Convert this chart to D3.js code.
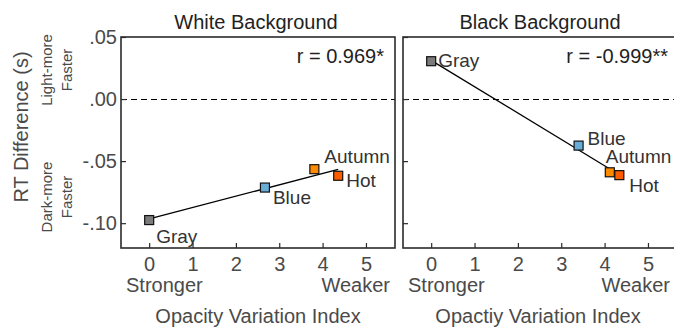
<!DOCTYPE html>
<html>
<head>
<meta charset="utf-8">
<script src="https://cdn.jsdelivr.net/npm/d3@7"></script>
<style>
  body { margin: 0; background: #fff; }
  svg { display: block; font-family: "Liberation Sans", Arial, sans-serif; }
</style>
</head>
<body>
<svg id="chart" width="674" height="327"></svg>
<script>
// data
const names = ['Gray', 'Blue', 'Autumn', 'Hot'];
const whiteX = [0, 2.67, 3.81, 4.36];
const whiteY = [-0.0975, -0.0713, -0.0565, -0.0618];
const blackX = [0, 3.40, 4.12, 4.34];
const blackY = [0.0305, -0.0375, -0.0590, -0.0613];
const panelTitles = ['White Background', 'Black Background'];
const rTexts = ['r = 0.969*', 'r = -0.999**'];
const xLabels = ['Opacity Variation Index', 'Opactiy Variation Index'];
const xTicks = [0, 1, 2, 3, 4, 5];
const yTicks = [0.05, 0, -0.05, -0.10];
const yTickLabels = ['.05', '.00', '-.05', '-.10'];

const colors = { Gray: '#7b7b7b', Blue: '#68acd8', Autumn: '#ff8a00', Hot: '#ff5c00' };
// label offsets from marker centre [dx, dy] for each panel
const labelOffsets = [
  { Gray: [7, 23], Blue: [8, 16], Autumn: [10, -6], Hot: [8, 11] },
  { Gray: [7, 6], Blue: [9, -1], Autumn: [-4, -9], Hot: [10, 17] }
];

const svg = d3.select('#chart');
const textCol = '#4a4a4a';
const axisCol = '#2b2b2b';
const fs = 20;

const y = d3.scaleLinear().domain([-0.12, 0.05]).range([248, 37]);
const panels = [
  { x0: 121, x1: 395, xs: whiteX, ys: whiteY },
  { x0: 403, x1: 677, xs: blackX, ys: blackY }
];

panels.forEach((p, i) => {
  const x = d3.scaleLinear().domain([-0.65, 5.67]).range([p.x0, p.x1]);
  const g = svg.append('g');
  const pts = names.map((n, k) => ({ name: n, x: p.xs[k], y: p.ys[k] }));

  // dashed zero line
  g.append('line')
    .attr('x1', p.x0).attr('x2', p.x1)
    .attr('y1', Math.round(y(0)) + 0.5).attr('y2', Math.round(y(0)) + 0.5)
    .attr('stroke', '#000').attr('stroke-width', 1.2)
    .attr('stroke-dasharray', '6,4');

  // least squares fit line
  const mx = d3.mean(pts, d => d.x), my = d3.mean(pts, d => d.y);
  const slope = d3.sum(pts, d => (d.x - mx) * (d.y - my)) / d3.sum(pts, d => (d.x - mx) ** 2);
  const icpt = my - slope * mx;
  const [xmin, xmax] = d3.extent(pts, d => d.x);
  g.append('line')
    .attr('x1', x(xmin)).attr('y1', y(icpt + slope * xmin))
    .attr('x2', x(xmax)).attr('y2', y(icpt + slope * xmax))
    .attr('stroke', '#000').attr('stroke-width', 1.3);

  // markers
  g.selectAll('rect.pt').data(pts).enter().append('rect')
    .attr('class', 'pt')
    .attr('x', d => x(d.x) - 4.5).attr('y', d => y(d.y) - 4.5)
    .attr('width', 9).attr('height', 9)
    .attr('fill', d => colors[d.name])
    .attr('stroke', '#111').attr('stroke-width', 1.2);

  g.selectAll('text.lbl').data(pts).enter().append('text')
    .attr('class', 'lbl')
    .attr('x', d => x(d.x) + labelOffsets[i][d.name][0])
    .attr('y', d => y(d.y) + labelOffsets[i][d.name][1])
    .attr('font-size', 19).attr('fill', '#333')
    .text(d => d.name);

  // axes with inward ticks
  const xAxis = d3.axisBottom(x).tickValues(xTicks).tickSize(-5).tickPadding(9).tickFormat(d3.format('d'));
  const ga = g.append('g').attr('transform', `translate(0,248)`).call(xAxis);
  const yAxis = d3.axisLeft(y).tickValues(yTicks).tickSize(-5).tickPadding(4)
    .tickFormat((d, k) => i === 0 ? yTickLabels[k] : '');
  const gy = g.append('g').attr('transform', `translate(${p.x0},0)`).call(yAxis);
  [ga, gy].forEach(a => {
    a.select('.domain').remove();
    a.selectAll('line').attr('stroke', axisCol).attr('stroke-width', 1.2);
    a.selectAll('text').attr('font-size', fs).attr('fill', textCol)
      .attr('font-family', '"Liberation Sans", Arial, sans-serif');
  });

  // box
  g.append('rect')
    .attr('x', p.x0).attr('y', 37)
    .attr('width', p.x1 - p.x0).attr('height', 248 - 37)
    .attr('fill', 'none').attr('stroke', axisCol).attr('stroke-width', 1.6);

  // titles and labels
  svg.append('text').attr('x', i === 0 ? 256 : 540).attr('y', 29)
    .attr('text-anchor', 'middle').attr('font-size', fs).attr('fill', '#222')
    .text(panelTitles[i]);
  svg.append('text').attr('x', i === 0 ? 384 : 668).attr('y', 63)
    .attr('text-anchor', 'end').attr('font-size', fs).attr('fill', '#222')
    .text(rTexts[i]);
  svg.append('text').attr('x', p.x0 + 5).attr('y', 292)
    .attr('font-size', fs).attr('fill', textCol).text('Stronger');
  svg.append('text').attr('x', i === 0 ? 390 : 670).attr('y', 292)
    .attr('text-anchor', 'end').attr('font-size', fs).attr('fill', textCol).text('Weaker');
  svg.append('text').attr('x', i === 0 ? 258 : 538).attr('y', 323)
    .attr('text-anchor', 'middle').attr('font-size', fs).attr('fill', textCol)
    .text(xLabels[i]);
});

// y axis titles
svg.append('text')
  .attr('transform', 'translate(28,127) rotate(-90)')
  .attr('text-anchor', 'middle').attr('font-size', fs).attr('fill', textCol)
  .text('RT Difference (s)');
const side = [['Light-more', 'Faster', 70], ['Dark-more', 'Faster', 197]];
side.forEach(s => {
  const t = svg.append('text')
    .attr('transform', `translate(52,${s[2]}) rotate(-90)`)
    .attr('text-anchor', 'middle').attr('font-size', 15).attr('fill', textCol);
  t.append('tspan').attr('x', 0).attr('dy', 0).text(s[0]);
  t.append('tspan').attr('x', 0).attr('dy', 20).text(s[1]);
});
</script>
</body>
</html>
